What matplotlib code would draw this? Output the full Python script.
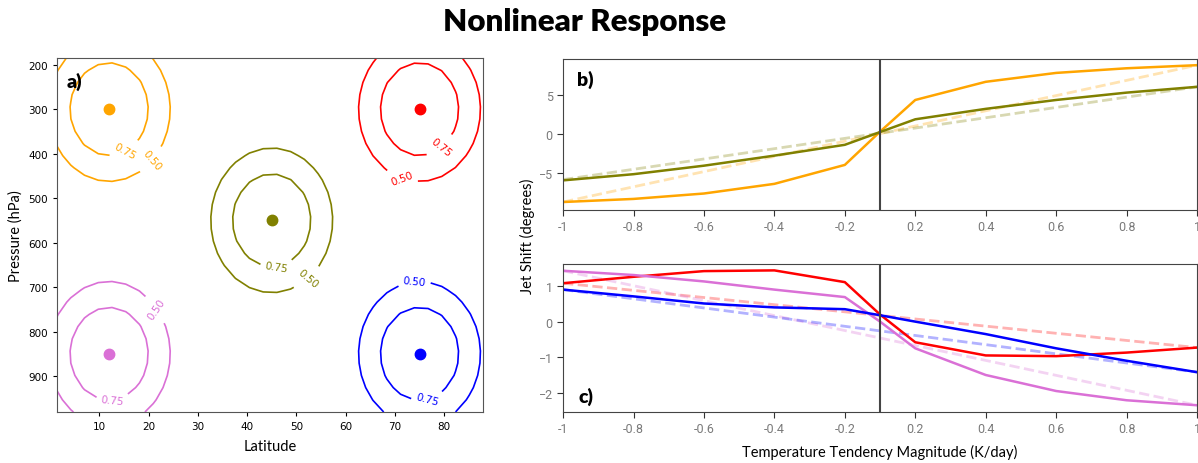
import numpy as np
import matplotlib
matplotlib.use("Agg")
import matplotlib.pyplot as plt

# ── DATA ─────────────────────────────────────────────────────
# panel a: heating blob centres (latitude, pressure) and widths
blob_colors = ["orange", "red", "olive", "orchid", "blue"]
blob_lat    = [12, 75, 45, 12, 75]
blob_pres   = [300, 300, 550, 850, 850]
sig_lat     = 10.5
sig_pres    = 138.0
levels      = [0.5, 0.75]

# where the contour labels sit (lat, pressure), per blob
label_spots = [
    [(15.3, 395), (20.7, 415)],
    [(79.5, 387), (71.4, 455)],
    [(46.0, 653), (52.3, 681)],
    [(22.2, 744), (12.6, 950)],
    [(73.9, 680), (76.6, 949)],
]

# panels b, c: jet shift vs forcing magnitude
mags        = [-1, -0.8, -0.6, -0.4, -0.2, 0, 0.2, 0.4, 0.6, 0.8, 1]
tick_mags   = [-1, -0.8, -0.6, -0.4, -0.2, 0.2, 0.4, 0.6, 0.8, 1]
tick_labels = ["-1", "-0.8", "-0.6", "-0.4", "-0.2", "0.2", "0.4", "0.6", "0.8", "1"]

orange_shift = [-8.8, -8.4, -7.7, -6.45, -4.0, 0.3, 4.4, 6.75, 7.9, 8.5, 8.9]
olive_shift  = [-6.0, -5.2, -4.1, -2.8, -1.4, 0.25, 1.9, 3.25, 4.4, 5.35, 6.1]
red_shift    = [1.08, 1.26, 1.42, 1.44, 1.11, 0.2, -0.58, -0.95, -0.97, -0.87, -0.73]
orchid_shift = [1.43, 1.31, 1.13, 0.9, 0.69, 0.0, -0.75, -1.5, -1.95, -2.21, -2.35]
blue_shift   = [0.9, 0.71, 0.51, 0.4, 0.35, 0.18, 0.0, -0.35, -0.75, -1.1, -1.42]

# linear response (dashed) endpoints at -1 and 1
ends          = [-1, 1]
orange_linear = [-8.8, 8.9]
olive_linear  = [-5.9, 6.1]
red_linear    = [1.08, -0.73]
orchid_linear = [1.43, -2.35]
blue_linear   = [0.9, -1.42]


def xpos(m):
    # axis is categorical, with zero squeezed in halfway between -0.2 and 0.2
    m = np.asarray(m, dtype=float)
    return 4.5 + m / 0.2 - 0.5 * np.sign(m)


LABEL_FONT = "Lato"
TICK_KW = dict(family="Roboto", weight="normal", color="#7a7a7a", size=9)

fig = plt.figure(figsize=(11.98, 4.64), dpi=100)
fig.text(0.488, 0.952, "Nonlinear Response", ha="center", va="center",
         fontsize=22.5, fontweight="heavy", family=LABEL_FONT)

# ── panel a ─────────────────────────────────────────────────
ax_a = fig.add_axes([0.0476, 0.1099, 0.3556, 0.7629])
lat  = np.linspace(1.4, 87.9, 32)
pres = np.linspace(185, 981, 30)
LAT, PRES = np.meshgrid(lat, pres)
for c, la, pr, spots in zip(blob_colors, blob_lat, blob_pres, label_spots):
    fld = np.exp(-((LAT - la) ** 2 / (2 * sig_lat ** 2)
                   + (PRES - pr) ** 2 / (2 * sig_pres ** 2)))
    cs = ax_a.contour(LAT, PRES, fld, levels=levels, colors=c, linewidths=1.2)
    ax_a.clabel(cs, fmt="%.2f", fontsize=7.5, inline=True, manual=spots)
    ax_a.plot(la, pr, "o", color=c, ms=7.5)
ax_a.set_xlim(1.4, 87.9)
ax_a.set_ylim(981, 185)
ax_a.set_xticks(np.arange(10, 90, 10))
ax_a.set_yticks(np.arange(200, 1000, 100))
ax_a.tick_params(labelsize=7.5, length=3)
for s in ax_a.spines.values():
    s.set_color("#555555")
ax_a.set_xlabel("Latitude", family=LABEL_FONT, fontsize=10.5, labelpad=6)
ax_a.set_ylabel("Pressure (hPa)", family=LABEL_FONT, fontsize=10.5, labelpad=4)
ax_a.text(0.022, 0.935, "a)", transform=ax_a.transAxes, fontsize=14,
          fontweight="heavy", family=LABEL_FONT, va="center")

# ── panels b, c ─────────────────────────────────────────────
ax_b = fig.add_axes([0.470, 0.5453, 0.5292, 0.3254])
ax_c = fig.add_axes([0.470, 0.1099, 0.5292, 0.3190])

b_series = [("orange", orange_shift, orange_linear),
            ("olive", olive_shift, olive_linear)]
c_series = [("red", red_shift, red_linear),
            ("orchid", orchid_shift, orchid_linear),
            ("blue", blue_shift, blue_linear)]

for ax, series in [(ax_b, b_series), (ax_c, c_series)]:
    for c, solid, lin in series:
        ax.plot(xpos(ends), lin, "--", color=c, lw=2, alpha=0.3)
    for c, solid, lin in series:
        ax.plot(xpos(mags), solid, "-", color=c, lw=1.8)
    ax.axvline(xpos(0), color="#444444", lw=1.5)
    ax.set_xlim(xpos(-1), xpos(1))
    ax.set_xticks(xpos(tick_mags))
    ax.set_xticklabels(tick_labels)
    ax.tick_params(color="#333333", length=4)
    for s in ax.spines.values():
        s.set_color("#444444")

ax_b.set_ylim(-9.83, 9.7)
ax_b.set_yticks([-5, 0, 5])
ax_c.set_ylim(-2.54, 1.62)
ax_c.set_yticks([-2, -1, 0, 1])
for ax in (ax_b, ax_c):
    for lab in ax.get_xticklabels() + ax.get_yticklabels():
        lab.set(**TICK_KW)

ax_b.text(0.022, 0.87, "b)", transform=ax_b.transAxes, fontsize=14,
          fontweight="heavy", family=LABEL_FONT, va="center")
ax_c.text(0.025, 0.11, "c)", transform=ax_c.transAxes, fontsize=14,
          fontweight="heavy", family=LABEL_FONT, va="center")

fig.text(0.4407, 0.491, "Jet Shift (degrees)", rotation=90, ha="center",
         va="center", family=LABEL_FONT, fontsize=10.5)
ax_c.set_xlabel("Temperature Tendency Magnitude (K/day)", family=LABEL_FONT,
                fontsize=10.5, labelpad=6)

plt.savefig("out.png", dpi=100)
plt.close()
